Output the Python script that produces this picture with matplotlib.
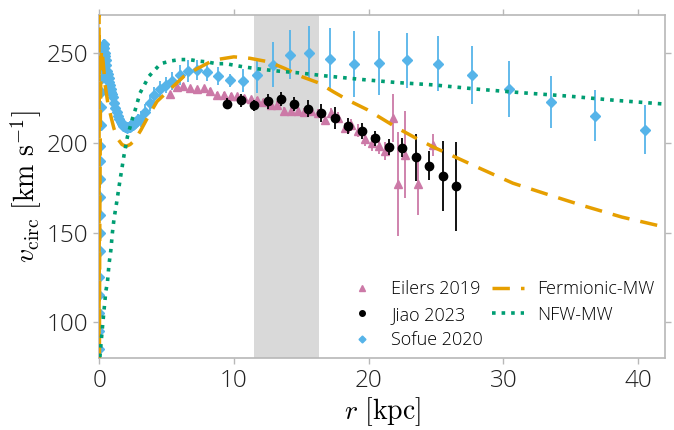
import matplotlib
matplotlib.use("Agg")
import matplotlib.pyplot as plt
from matplotlib.lines import Line2D

plt.rcParams['font.family'] = ['Open Sans', 'DejaVu Sans']
plt.rcParams['font.weight'] = 'light'
plt.rcParams['mathtext.fontset'] = 'cm'

# ---------------- data ----------------
# Eilers 2019
eil_r = [5.27, 5.76, 6.25, 6.74, 7.24, 7.78, 8.22, 8.77, 9.26, 9.76, 10.25, 10.74, 11.24, 11.73,
         12.2, 12.72, 13.23, 13.74, 14.24, 14.74, 15.22, 15.74, 16.24, 16.74, 17.24, 17.73, 18.22,
         18.72, 19.2, 19.7, 20.25, 20.74, 21.24, 21.78, 22.15, 22.7, 23.66, 24.8]
eil_v = [227.0, 231.0, 231.5, 230.2, 229.8, 230.2, 229.0, 226.8, 226.5, 226.2, 225.8, 225.0, 224.2, 223.8,
         222.5, 221.0, 221.2, 217.8, 217.5, 217.8, 217.3, 217.6, 216.4, 212.8, 216.6, 213.9, 208.2,
         209.9, 206.7, 202.2, 200.0, 198.4, 195.5, 213.9, 177.2, 193.4, 176.9, 198.7]
eil_e = [1.5, 1.5, 1.5, 1.5, 1.5, 1.5, 1.5, 1.5, 1.5, 1.5, 1.5, 1.5, 1.5, 1.5,
         1.8, 1.8, 2.0, 2.0, 2.0, 2.0, 2.0, 2.2, 2.5, 2.5, 2.5, 3.0, 3.0,
         3.5, 3.5, 4.0, 4.5, 4.5, 5.0, 13.5, 29.0, 24.0, 17.0, 6.3]

# Jiao 2023
jiao_r = [9.5, 10.5, 11.5, 12.5, 13.5, 14.5, 15.5, 16.5, 17.5, 18.5, 19.5, 20.5, 21.5, 22.5,
          23.5, 24.5, 25.5, 26.5]
jiao_v = [221.8, 223.6, 220.8, 223.2, 224.4, 221.8, 219.0, 216.6, 213.8, 209.1, 206.4, 202.6,
          197.6, 197.3, 191.9, 187.2, 181.4, 175.7]
jiao_e = [3.2, 3.5, 3.2, 4.2, 3.7, 3.9, 4.6, 5.1, 6.0, 4.4, 4.6, 4.2, 4.5, 5.1, 13.0, 8.2, 19.6, 24.8]

# Sofue 2020
sof_r = [0.01, 0.015, 0.02, 0.025, 0.03, 0.04, 0.05, 0.06, 0.07, 0.08, 0.09, 0.1, 0.12, 0.14,
         0.16, 0.18, 0.2, 0.23, 0.26, 0.3, 0.34, 0.38, 0.42, 0.46, 0.5, 0.55, 0.6, 0.65, 0.7,
         0.75, 0.8, 0.85, 0.9, 0.95, 1.0, 1.1, 1.2, 1.3, 1.4, 1.5, 1.6, 1.7, 1.8, 1.9, 2.0,
         2.1, 2.2, 2.3, 2.4, 2.5, 2.6, 2.7, 2.8, 2.9,
         3.09, 3.41, 3.76, 4.07, 4.5, 4.96, 5.43, 6.0, 6.62, 7.29, 8.03, 8.8, 9.73, 10.67,
         11.73, 12.9, 14.2, 15.6, 17.16, 18.9, 20.8, 22.87, 25.14, 27.7, 30.4, 33.5, 36.8, 40.5]
sof_v = [85, 95, 105, 115, 125, 140, 150, 160, 170, 180, 190, 198, 210, 220,
         228, 236, 242, 248, 252, 254, 255, 253, 250, 248, 246, 243, 240, 238, 236,
         234, 232, 230, 228.5, 227, 225.5, 222, 219.5, 217, 215, 213, 211.5, 210.5, 209.5, 209, 208.5,
         208.3, 208.5, 209, 209.5, 210, 210.5, 211, 212, 213,
         213.4, 217.1, 222.1, 226.8, 229.8, 232.0, 234.2, 237.6, 239.8, 240.4, 239.2, 237.0, 234.8, 234.6,
         237.6, 243.3, 249.1, 250.2, 246.7, 243.7, 244.4, 245.9, 244.1, 237.6, 229.8, 222.7, 215.1, 207.3]
sof_e = [3] * 54 + [4.5, 4.5, 4.5, 4.5, 4.5, 4.5, 5.0, 5.5, 6.0, 5.5, 5.0, 5.0, 3.5, 6.5,
                    9.8, 12.5, 13.4, 14.9, 17.4, 18.5, 17.7, 15.4, 15.3, 16.2, 15.6, 14.3, 14.0, 13.8]

# Fermionic-MW model
fer_r = [0.0, 0.0002, 0.001, 0.005, 0.02, 0.05, 0.1, 0.15, 0.2, 0.3, 0.45, 0.65, 0.9, 1.1, 1.4,
         1.7, 2.0, 2.3, 2.6, 3.1, 3.6, 4.3, 5.3, 6.3, 7.3, 8.5, 10.0, 11.2, 12.6, 13.8, 15.1,
         16.3, 17.4, 18.6, 19.9, 21.1, 22.2, 23.5, 24.8, 26.0, 28.3, 30.7, 33.5, 35.9, 38.8, 42.0]
fer_v = [60, 330, 200, 90, 70, 150, 220, 248, 252, 245, 232, 222, 214, 208, 202,
         199, 198, 199, 201, 207, 214, 223, 230, 237, 241.3, 246, 247.8, 247, 245, 241.3, 236.6,
         233.3, 228.3, 223.2, 218.4, 212.9, 207.9, 202.6, 197.6, 193.5, 185.6, 177.5, 170.7, 165,
         158.6, 153]

# NFW-MW model
nfw_r = [0.0, 0.07, 0.13, 0.25, 0.37, 0.5, 0.62, 0.74, 0.87, 0.99, 1.11, 1.31, 1.53, 1.85, 2.1,
         2.47, 2.67, 3.04, 3.39, 3.7, 4.57, 5.3, 6.0, 6.67, 7.33, 8.0, 8.7, 9.4, 10.05, 10.74,
         12.03, 13.4, 14.8, 16.8, 19.5, 22.1, 24.8, 28.1, 31.6, 34.9, 38.3, 42.0]
nfw_v = [70, 81.5, 87, 97.3, 107, 117.3, 122.3, 132.6, 140, 150, 157.7, 167, 178, 193, 203.2,
         213.4, 218, 227.7, 232.6, 237, 244, 245.5, 246.3, 246.3, 245.5, 245, 244, 244, 243.1, 242.2,
         240.9, 239.8, 238.9, 237.2, 235.2, 233.5, 232.2, 229.8, 227.7, 225.9, 223.6, 221.5]

span = (11.5, 16.3)
xticks = [0, 10, 20, 30, 40]
yticks = [100, 150, 200, 250]

# ---------------- plot ----------------
c_pink = '#CC79A7'
c_blue = '#56B4E9'
c_orange = '#E69F00'
c_green = '#009E73'
spine_c = '#b8b8b8'

fig = plt.figure(figsize=(6.74, 4.30), dpi=100)
ax = fig.add_axes([0.147, 0.1667, 0.8398, 0.798])

ax.axvspan(span[0], span[1], color='#d9d9d9', zorder=0, lw=0)

ax.errorbar(eil_r, eil_v, yerr=eil_e, fmt='^', color=c_pink, ms=6, elinewidth=1.3,
            ecolor=c_pink, capsize=0, zorder=3)
ax.errorbar(jiao_r, jiao_v, yerr=jiao_e, fmt='o', color='black', ms=6, elinewidth=1.3,
            capsize=0, zorder=4)
ax.errorbar(sof_r, sof_v, yerr=sof_e, fmt='D', color=c_blue, ms=5.5, elinewidth=1.3,
            capsize=0, zorder=2)
ax.plot(fer_r, fer_v, color=c_orange, lw=2.5, dashes=(5, 3.2), zorder=5)
ax.plot(nfw_r, nfw_v, color=c_green, lw=2.6, ls=':', zorder=5)

ax.set_xlim(0, 42)
ax.set_ylim(80, 271)
ax.set_xticks(xticks)
ax.set_yticks(yticks)

for s in ax.spines.values():
    s.set_color(spine_c)
    s.set_linewidth(1.2)
ax.tick_params(axis='both', which='both', direction='out', length=4, width=1, color=spine_c,
               labelsize=17.5, labelcolor='#222222', top=True, right=True, pad=4)

ax.set_xlabel(r'$r\ [\mathrm{kpc}]$', fontsize=20, labelpad=1)
ax.set_ylabel(r'$v_{\rm circ}\ [\mathrm{km\ s^{-1}}]$', fontsize=20, labelpad=2)

handles = [
    Line2D([], [], ls='none', marker='^', color=c_pink, ms=4),
    Line2D([], [], ls='none', marker='o', color='black', ms=4),
    Line2D([], [], ls='none', marker='D', color=c_blue, ms=3.5),
    Line2D([], [], color=c_orange, lw=2.5, dashes=(5, 3.2)),
    Line2D([], [], color=c_green, lw=2.6, ls=':'),
]
labels = ['Eilers 2019', 'Jiao 2023', 'Sofue 2020', 'Fermionic-MW', 'NFW-MW']
ax.legend(handles, labels, ncol=2, loc='lower right', bbox_to_anchor=(1.0, -0.005),
          frameon=False, fontsize=13, handlelength=1.8, columnspacing=0.5,
          handletextpad=0.7, labelspacing=0.42, borderaxespad=0.2)

fig.savefig('out.png', dpi=100)
